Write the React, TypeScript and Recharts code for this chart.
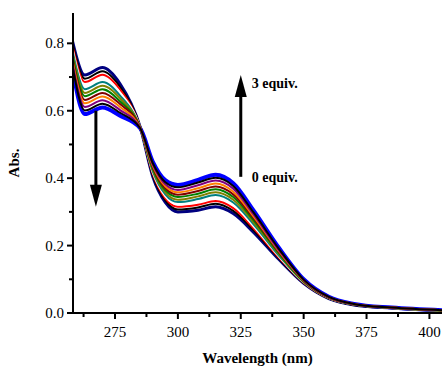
import { LineChart, Line, XAxis, YAxis, ReferenceLine } from "recharts";

// wavelength grid (nm)
const wavelengths = [258, 263, 270, 277, 285, 290, 295, 300, 308, 315, 322, 330, 340, 350, 360, 370, 385, 405];

// absorbance spectra, 0 equiv. -> 3 equiv.
const eq00 = [0.810, 0.706, 0.728, 0.680, 0.552, 0.405, 0.328, 0.300, 0.305, 0.315, 0.295, 0.240, 0.160, 0.088, 0.043, 0.024, 0.015, 0.007];
const eq01 = [0.803, 0.695, 0.717, 0.671, 0.552, 0.409, 0.334, 0.307, 0.313, 0.324, 0.303, 0.246, 0.163, 0.089, 0.043, 0.024, 0.015, 0.007];
const eq02 = [0.795, 0.685, 0.707, 0.663, 0.551, 0.413, 0.340, 0.315, 0.321, 0.332, 0.311, 0.252, 0.166, 0.090, 0.044, 0.025, 0.015, 0.007];
const eq03 = [0.788, 0.674, 0.696, 0.654, 0.551, 0.417, 0.346, 0.322, 0.330, 0.341, 0.320, 0.258, 0.169, 0.091, 0.044, 0.025, 0.015, 0.007];
const eq04 = [0.781, 0.664, 0.685, 0.645, 0.550, 0.421, 0.352, 0.329, 0.338, 0.350, 0.328, 0.264, 0.172, 0.092, 0.045, 0.025, 0.015, 0.007];
const eq05 = [0.774, 0.653, 0.674, 0.637, 0.550, 0.425, 0.358, 0.336, 0.346, 0.358, 0.336, 0.270, 0.176, 0.093, 0.045, 0.026, 0.015, 0.007];
const eq06 = [0.766, 0.643, 0.664, 0.628, 0.550, 0.429, 0.364, 0.344, 0.354, 0.367, 0.344, 0.276, 0.179, 0.094, 0.046, 0.026, 0.016, 0.008];
const eq07 = [0.759, 0.632, 0.653, 0.620, 0.550, 0.433, 0.370, 0.351, 0.362, 0.375, 0.352, 0.282, 0.182, 0.096, 0.046, 0.026, 0.016, 0.008];
const eq08 = [0.752, 0.622, 0.642, 0.611, 0.549, 0.437, 0.376, 0.358, 0.370, 0.384, 0.360, 0.287, 0.185, 0.097, 0.047, 0.027, 0.016, 0.008];
const eq09 = [0.745, 0.611, 0.631, 0.602, 0.549, 0.441, 0.382, 0.365, 0.379, 0.393, 0.369, 0.293, 0.188, 0.098, 0.047, 0.027, 0.016, 0.008];
const eq10 = [0.737, 0.601, 0.621, 0.594, 0.548, 0.445, 0.388, 0.373, 0.387, 0.401, 0.377, 0.299, 0.192, 0.099, 0.048, 0.027, 0.016, 0.008];
const eq11 = [0.730, 0.590, 0.610, 0.585, 0.548, 0.449, 0.394, 0.380, 0.395, 0.410, 0.385, 0.305, 0.195, 0.100, 0.048, 0.027, 0.016, 0.008];

const spectra = [eq00, eq01, eq02, eq03, eq04, eq05, eq06, eq07, eq08, eq09, eq10, eq11];
const colors = ["#000080", "#000000", "#FF0000", "#FFFFFF", "#008080", "#808000", "#008000", "#800000", "#FF8000", "#800080", "#000000", "#0000FF"];

const xTicks = [262.5, 275, 287.5, 300, 312.5, 325, 337.5, 350, 362.5, 375, 387.5, 400];
const yTicks = [0, 0.1, 0.2, 0.3, 0.4, 0.5, 0.6, 0.7, 0.8];

const data = wavelengths.map((wl, i) => {
    const row: Record<string, number> = { wl };
    spectra.forEach((s, k) => {
        row["s" + k] = s[i];
    });
    return row;
});

// blue and navy drawn first so the thin lines sit on top
const drawOrder = [11, 0, 1, 2, 3, 4, 5, 6, 7, 8, 9, 10];

const font = "Liberation Serif, DejaVu Serif, serif";

const XTick = (props: any) => {
    const { x, y, payload } = props;
    const major = payload.value % 25 === 0;
    return (
        <g>
            <line x1={x} y1={y} x2={x} y2={y + (major ? 6 : 4)} stroke="#000" strokeWidth={2} />
            {major && (
                <text x={x} y={y + 24} textAnchor="middle" style={{ fontSize: 15, fontFamily: font }} fill="#000">
                    {payload.value}
                </text>
            )}
        </g>
    );
};

const YTick = (props: any) => {
    const { x, y, payload } = props;
    const major = Math.round(payload.value * 10) % 2 === 0;
    return (
        <g>
            <line x1={x} y1={y} x2={x - (major ? 6 : 4)} y2={y} stroke="#000" strokeWidth={2} />
            {major && (
                <text x={x - 9} y={y + 5} textAnchor="end" style={{ fontSize: 15, fontFamily: font }} fill="#000">
                    {payload.value.toFixed(1)}
                </text>
            )}
        </g>
    );
};

const arrowShape = (topLabel?: string, bottomLabel?: string) => (props: any) => {
    const { x1, y1, x2, y2 } = props;
    const dir = y2 > y1 ? 1 : -1;
    const headLen = 22;
    const headHalf = 6;
    const labelStyle = { fontSize: 14, fontWeight: "bold" as const, fontFamily: font };
    return (
        <g>
            <line x1={x1} y1={y1} x2={x2} y2={y2 - dir * headLen + dir * 2} stroke="#000" strokeWidth={3} />
            <polygon
                points={`${x2},${y2} ${x2 - headHalf},${y2 - dir * headLen} ${x2 + headHalf},${y2 - dir * headLen}`}
                fill="#000"
            />
            {topLabel && (
                <text x={x2 + 11} y={Math.min(y1, y2) + 13} style={labelStyle} fill="#000">
                    {topLabel}
                </text>
            )}
            {bottomLabel && (
                <text x={x2 + 11} y={Math.max(y1, y2) + 5} style={labelStyle} fill="#000">
                    {bottomLabel}
                </text>
            )}
        </g>
    );
};

const App = () => {
    return (
        <div style={{ position: "absolute", left: 0, top: 0, width: 442, height: 367, background: "#fff" }}>
            <LineChart width={442} height={367} data={data} margin={{ top: 13, right: 0, bottom: 0, left: 0 }}>
                <XAxis
                    dataKey="wl"
                    type="number"
                    domain={[258.3, 405]}
                    ticks={xTicks}
                    interval={0}
                    height={54}
                    tickLine={false}
                    tickSize={0}
                    tickMargin={0}
                    tick={<XTick />}
                    axisLine={{ stroke: "#000", strokeWidth: 2 }}
                    allowDataOverflow
                    label={{
                        value: "Wavelength (nm)",
                        position: "insideBottom",
                        offset: 4,
                        style: { fontFamily: font, fontSize: 15, fontWeight: "bold", fill: "#000" },
                    }}
                />
                <YAxis
                    type="number"
                    domain={[0, 0.89]}
                    ticks={yTicks}
                    interval={0}
                    width={73}
                    tickLine={false}
                    tickSize={0}
                    tickMargin={0}
                    tick={<YTick />}
                    axisLine={{ stroke: "#000", strokeWidth: 2 }}
                    allowDataOverflow
                    label={{
                        value: "Abs.",
                        angle: -90,
                        position: "insideLeft",
                        offset: 14,
                        style: { fontFamily: font, fontSize: 15, fontWeight: "bold", fill: "#000", textAnchor: "middle" },
                    }}
                />
                {drawOrder.map((k) => (
                    <Line
                        key={k}
                        type="monotone"
                        dataKey={"s" + k}
                        stroke={colors[k]}
                        strokeWidth={k === 11 ? 4 : k === 0 ? 3 : 2}
                        dot={false}
                        activeDot={false}
                        isAnimationActive={false}
                    />
                ))}
                <ReferenceLine
                    segment={[{ x: 267.4, y: 0.6 }, { x: 267.4, y: 0.315 }]}
                    shape={arrowShape()}
                    ifOverflow="visible"
                />
                <ReferenceLine
                    segment={[{ x: 325, y: 0.404 }, { x: 325, y: 0.706 }]}
                    shape={arrowShape("3 equiv.", "0 equiv.")}
                    ifOverflow="visible"
                />
            </LineChart>
        </div>
    );
};

export default App;
